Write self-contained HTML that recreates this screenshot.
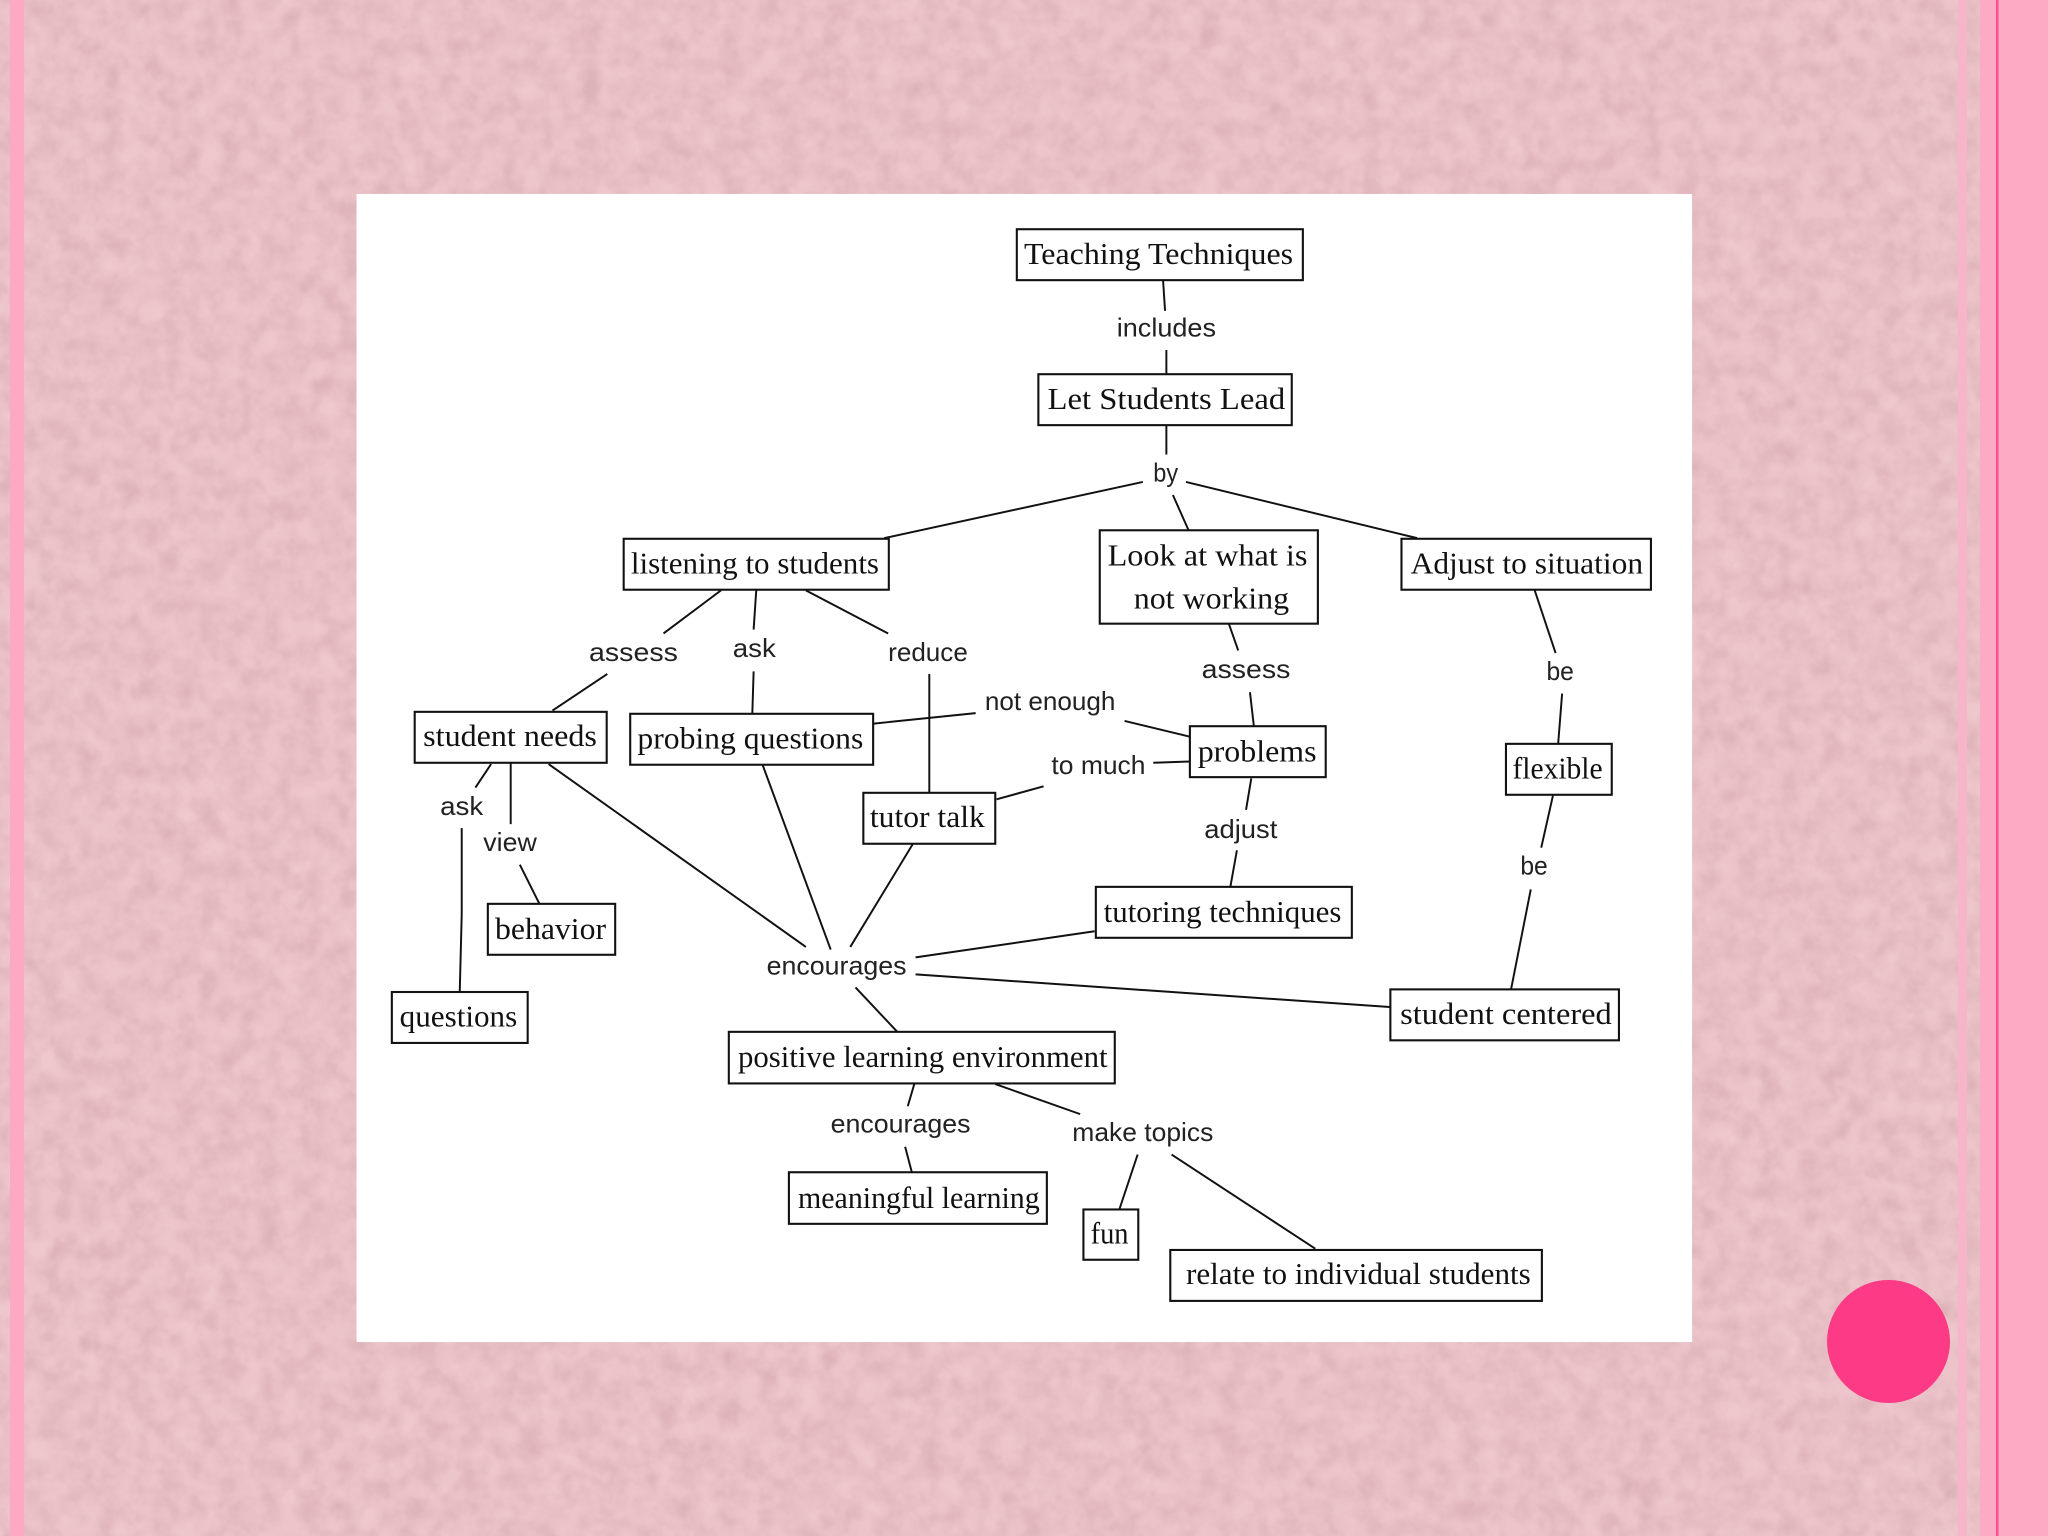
<!DOCTYPE html>
<html><head><meta charset="utf-8">
<style>
html,body{margin:0;padding:0;width:2048px;height:1536px;overflow:hidden;background:#ebc3c9}
svg{position:absolute;left:0;top:0;display:block}
.n{font-family:"Liberation Serif",serif;font-size:23.5px;fill:#111}
.l{font-family:"Liberation Sans",sans-serif;font-size:20px;fill:#222}
</style></head><body>
<svg width="2048" height="1536" viewBox="0 0 2048 1536">
<defs>
<filter id="tex" x="0" y="0" width="100%" height="100%" color-interpolation-filters="sRGB">
<feTurbulence type="fractalNoise" baseFrequency="0.05" numOctaves="3" seed="7"/>
<feColorMatrix type="matrix" values="0 0 0 0 0.76  0 0 0 0 0.56  0 0 0 0 0.58  1.6 1.2 0 0 -1.0"/>
</filter>
<filter id="tex2" x="0" y="0" width="100%" height="100%" color-interpolation-filters="sRGB">
<feTurbulence type="fractalNoise" baseFrequency="0.04" numOctaves="3" seed="23"/>
<feColorMatrix type="matrix" values="0 0 0 0 0.97  0 0 0 0 0.85  0 0 0 0 0.86  1.6 1.2 0 0 -1.0"/>
</filter>
</defs>
<rect width="2048" height="1536" fill="#ebc3c9"/>
<rect width="2048" height="1536" filter="url(#tex)" opacity=".3"/>
<rect width="2048" height="1536" filter="url(#tex2)" opacity=".25"/>
<rect x="10" y="0" width="14" height="1536" fill="#fda9c4"/>
<rect x="1958" y="0" width="9" height="1536" fill="#f7b5c9"/>
<rect x="1980" y="0" width="68" height="1536" fill="#fdabc5"/>
<rect x="1996" y="0" width="2.5" height="1536" fill="#fb4f8f"/>
<circle cx="1888.5" cy="1341.5" r="61.5" fill="#fd3a85"/>
</svg>
<svg width="2048" height="1536" viewBox="0 0 1568 1176">
<rect x="273" y="148.5" width="1022.5" height="879" fill="#fff"/>
<g fill="#fff" stroke="#111" stroke-width="1.6">
<rect x="778.5" y="175.5" width="219" height="39"/>
<rect x="795" y="286.5" width="194" height="39"/>
<rect x="477.5" y="412.5" width="203" height="39"/>
<rect x="842" y="406" width="167" height="71.5"/>
<rect x="1073" y="412.5" width="191" height="39"/>
<rect x="317.5" y="545" width="147" height="39"/>
<rect x="482.5" y="546.5" width="186" height="39"/>
<rect x="911" y="556" width="104" height="39"/>
<rect x="1153" y="569.5" width="81" height="39"/>
<rect x="661" y="607" width="101" height="39"/>
<rect x="839" y="679" width="196" height="39"/>
<rect x="373.5" y="692" width="97.5" height="39"/>
<rect x="300" y="759.5" width="104" height="39"/>
<rect x="1064.5" y="757.5" width="175" height="39"/>
<rect x="558" y="790" width="295.5" height="39.5"/>
<rect x="604" y="897.5" width="197.5" height="39.5"/>
<rect x="829.5" y="926" width="42" height="38.5"/>
<rect x="896" y="957" width="284.5" height="39"/>
</g>
<g stroke="#111" stroke-width="1.5" fill="none" stroke-linecap="butt">
<path d="M890.5 215L892 238"/><path d="M893 268V286"/><path d="M893 326V348"/>
<path d="M875 369L677 412"/><path d="M908 369L1085 412"/><path d="M898 379L910 406"/>
<path d="M552 452L508 485"/><path d="M579 452L577 482"/><path d="M617 452L680 485"/>
<path d="M465 516L423 544"/><path d="M577 514L576 546"/><path d="M711.5 516V607"/>
<path d="M669 554L747 546"/><path d="M861 552L911 564"/><path d="M883 584L911 583"/>
<path d="M799 602L763 612"/><path d="M941 478L948 498"/><path d="M957 530L960 556"/>
<path d="M958 596L954 620"/><path d="M947 651L942 679"/>
<path d="M1175 452L1191 500"/><path d="M1196 531L1193 569"/><path d="M1189 609L1180 649"/><path d="M1172 681L1157 757"/>
<path d="M376 585L364 603"/><path d="M391 584V631"/><path d="M353.5 634V700L352 759"/><path d="M398 662L413 692"/>
<path d="M420 585L617 725"/><path d="M584 586L636 727"/><path d="M699 646L651 725"/>
<path d="M838 713L701 733"/><path d="M701 746L1064 771"/><path d="M655 756L687 790"/>
<path d="M700 830L695 847"/><path d="M693 878L698 897"/><path d="M762 830L827 853"/>
<path d="M871 884L857 926"/><path d="M897 884L1007 956"/>
</g>
<g>
<text class="n" x="784" y="202" textLength="206" lengthAdjust="spacingAndGlyphs">Teaching Techniques</text>
<text class="n" x="802" y="313" textLength="182" lengthAdjust="spacingAndGlyphs">Let Students Lead</text>
<text class="n" x="483" y="439" textLength="190" lengthAdjust="spacingAndGlyphs">listening to students</text>
<text class="n" x="848" y="433" textLength="153" lengthAdjust="spacingAndGlyphs">Look at what is</text>
<text class="n" x="868" y="466" textLength="119" lengthAdjust="spacingAndGlyphs">not working</text>
<text class="n" x="1080" y="439" textLength="178" lengthAdjust="spacingAndGlyphs">Adjust to situation</text>
<text class="n" x="324" y="571" textLength="133" lengthAdjust="spacingAndGlyphs">student needs</text>
<text class="n" x="488" y="573" textLength="173" lengthAdjust="spacingAndGlyphs">probing questions</text>
<text class="n" x="917" y="583" textLength="91" lengthAdjust="spacingAndGlyphs">problems</text>
<text class="n" x="1158" y="596" textLength="69" lengthAdjust="spacingAndGlyphs">flexible</text>
<text class="n" x="666" y="633" textLength="88" lengthAdjust="spacingAndGlyphs">tutor talk</text>
<text class="n" x="845" y="706" textLength="182" lengthAdjust="spacingAndGlyphs">tutoring techniques</text>
<text class="n" x="379" y="719" textLength="85" lengthAdjust="spacingAndGlyphs">behavior</text>
<text class="n" x="306" y="786" textLength="90" lengthAdjust="spacingAndGlyphs">questions</text>
<text class="n" x="1072" y="784" textLength="162" lengthAdjust="spacingAndGlyphs">student centered</text>
<text class="n" x="565" y="817" textLength="283" lengthAdjust="spacingAndGlyphs">positive learning environment</text>
<text class="n" x="611" y="925" textLength="185" lengthAdjust="spacingAndGlyphs">meaningful learning</text>
<text class="n" x="835" y="952" textLength="29" lengthAdjust="spacingAndGlyphs">fun</text>
<text class="n" x="908" y="983" textLength="264" lengthAdjust="spacingAndGlyphs">relate to individual students</text>
</g>
<g>
<text class="l" x="855" y="257.5" textLength="76" lengthAdjust="spacingAndGlyphs">includes</text>
<text class="l" x="883" y="368.5" textLength="19" lengthAdjust="spacingAndGlyphs">by</text>
<text class="l" x="451" y="506" textLength="68" lengthAdjust="spacingAndGlyphs">assess</text>
<text class="l" x="561" y="503" textLength="33" lengthAdjust="spacingAndGlyphs">ask</text>
<text class="l" x="680" y="506" textLength="61" lengthAdjust="spacingAndGlyphs">reduce</text>
<text class="l" x="754" y="543.5" textLength="100" lengthAdjust="spacingAndGlyphs">not enough</text>
<text class="l" x="805" y="592.5" textLength="72" lengthAdjust="spacingAndGlyphs">to much</text>
<text class="l" x="920" y="519" textLength="68" lengthAdjust="spacingAndGlyphs">assess</text>
<text class="l" x="1184" y="520.5" textLength="21" lengthAdjust="spacingAndGlyphs">be</text>
<text class="l" x="922" y="641.5" textLength="56" lengthAdjust="spacingAndGlyphs">adjust</text>
<text class="l" x="1164" y="669.5" textLength="21" lengthAdjust="spacingAndGlyphs">be</text>
<text class="l" x="337" y="624" textLength="33" lengthAdjust="spacingAndGlyphs">ask</text>
<text class="l" x="370" y="651.5" textLength="41" lengthAdjust="spacingAndGlyphs">view</text>
<text class="l" x="587" y="746" textLength="107" lengthAdjust="spacingAndGlyphs">encourages</text>
<text class="l" x="636" y="867" textLength="107" lengthAdjust="spacingAndGlyphs">encourages</text>
<text class="l" x="821" y="873.5" textLength="108" lengthAdjust="spacingAndGlyphs">make topics</text>
</g>
</svg>
</body></html>
